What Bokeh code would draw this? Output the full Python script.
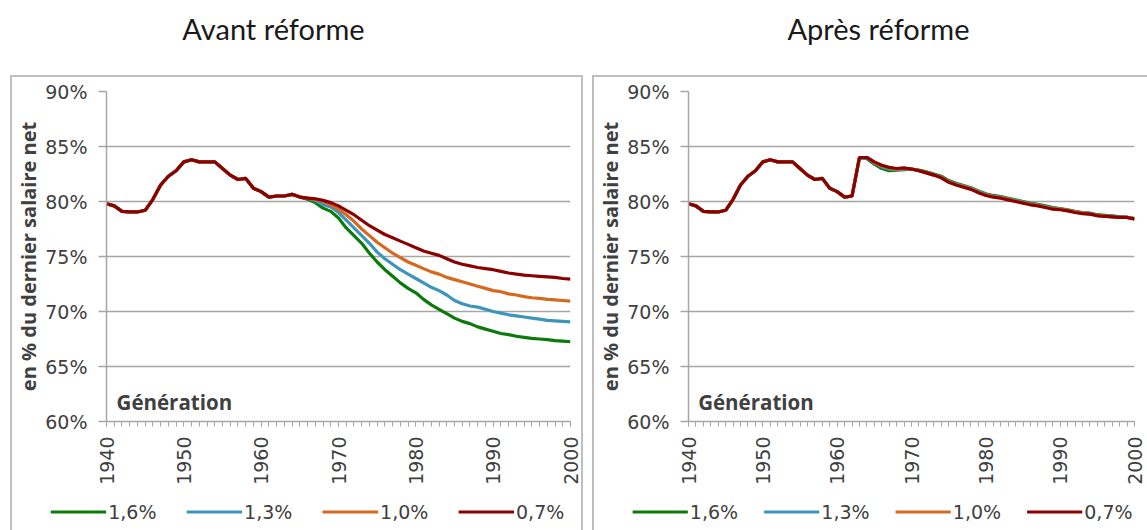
import math
from bokeh.plotting import figure
from bokeh.layouts import row, column
from bokeh.models import (Label, FixedTicker, PrintfTickFormatter, Spacer)
from bokeh.core.properties import value
from bokeh.embed import file_html
from bokeh.resources import INLINE

# ---------------- data ----------------
years = list(range(1940, 2001))
series_labels = ["1,6%", "1,3%", "1,0%", "0,7%"]
series_colors = ["#0B7A0B", "#3D95BC", "#D5691E", "#8B0000"]
titles = ["Avant réforme", "Après réforme"]
y_label = "en % du dernier salaire net"
x_title = "Génération"
x_ticks = [1940, 1950, 1960, 1970, 1980, 1990, 2000]
y_ticks = [60, 65, 70, 75, 80, 85, 90]

# common part 1940-1962 (in %)
base_common = [79.8, 79.6, 79.1, 79.05, 79.05, 79.2, 80.2, 81.5, 82.3, 82.8,
               83.6, 83.8, 83.6, 83.6, 83.6, 83.0, 82.4, 82.0, 82.1, 81.2,
               80.9, 80.4, 80.5]
# "Avant réforme": common 1963-1965, then per-series 1966-2000
avant_common_1963_1965 = [80.5, 80.65, 80.4]
avant_16 = [80.2, 79.9, 79.4, 79.1, 78.5, 77.6, 76.9, 76.2, 75.3, 74.5,
            73.8, 73.2, 72.6, 72.1, 71.7, 71.1, 70.6, 70.2, 69.8, 69.4,
            69.1, 68.9, 68.6, 68.4, 68.2, 68.0, 67.9, 67.75, 67.65, 67.55,
            67.5, 67.45, 67.35, 67.3, 67.25]
avant_13 = [80.3, 80.1, 79.7, 79.5, 79.0, 78.3, 77.6, 76.9, 76.2, 75.4,
            74.8, 74.3, 73.8, 73.4, 73.0, 72.6, 72.2, 71.9, 71.5, 71.0,
            70.7, 70.5, 70.4, 70.2, 70.0, 69.85, 69.7, 69.6, 69.5, 69.4,
            69.3, 69.2, 69.15, 69.1, 69.05]
avant_10 = [80.3, 80.2, 80.0, 79.7, 79.3, 78.8, 78.2, 77.5, 76.9, 76.3,
            75.8, 75.3, 74.9, 74.5, 74.2, 73.9, 73.6, 73.4, 73.1, 72.9,
            72.7, 72.5, 72.3, 72.1, 71.9, 71.8, 71.6, 71.5, 71.35, 71.25,
            71.2, 71.1, 71.05, 71.0, 70.95]
avant_07 = [80.3, 80.25, 80.1, 79.9, 79.6, 79.2, 78.8, 78.3, 77.8, 77.4,
            77.0, 76.7, 76.4, 76.1, 75.8, 75.5, 75.3, 75.1, 74.8, 74.5,
            74.3, 74.15, 74.0, 73.9, 73.8, 73.65, 73.5, 73.4, 73.3, 73.25,
            73.2, 73.15, 73.1, 73.0, 72.95]
# "Après réforme": per-series 1963-2000
apres_16 = [84.0, 83.9, 83.4, 83.0, 82.8, 82.85, 82.9, 82.95, 82.85, 82.7,
            82.5, 82.3, 81.9, 81.65, 81.45, 81.25, 80.95, 80.7, 80.55, 80.45,
            80.3, 80.15, 80.0, 79.85, 79.75, 79.6, 79.45, 79.35, 79.25, 79.1,
            79.0, 78.95, 78.8, 78.75, 78.7, 78.6, 78.55, 78.45]
apres_13 = [84.0, 83.95, 83.5, 83.15, 82.95, 82.9, 82.95, 82.95, 82.8, 82.65,
            82.45, 82.2, 81.85, 81.6, 81.4, 81.2, 80.9, 80.65, 80.5, 80.4,
            80.25, 80.1, 79.95, 79.8, 79.7, 79.55, 79.4, 79.3, 79.2, 79.05,
            78.95, 78.9, 78.75, 78.7, 78.65, 78.6, 78.55, 78.45]
apres_10 = [84.0, 84.0, 83.55, 83.25, 83.05, 82.95, 83.0, 82.95, 82.8, 82.6,
            82.4, 82.2, 81.8, 81.55, 81.35, 81.15, 80.85, 80.6, 80.45, 80.35,
            80.2, 80.05, 79.9, 79.75, 79.65, 79.5, 79.35, 79.3, 79.2, 79.05,
            78.95, 78.85, 78.75, 78.7, 78.6, 78.55, 78.55, 78.45]
apres_07 = [84.0, 84.0, 83.6, 83.3, 83.1, 83.0, 83.05, 82.95, 82.8, 82.6,
            82.4, 82.15, 81.75, 81.5, 81.3, 81.1, 80.8, 80.55, 80.4, 80.3,
            80.15, 80.0, 79.85, 79.7, 79.6, 79.45, 79.3, 79.25, 79.15, 79.0,
            78.9, 78.85, 78.7, 78.65, 78.6, 78.55, 78.55, 78.4]

avant = [base_common + avant_common_1963_1965 + s for s in (avant_16, avant_13, avant_10, avant_07)]
apres = [base_common + s for s in (apres_16, apres_13, apres_10, apres_07)]

# ---------------- style ----------------
FONT = "DejaVu Sans"
FS = "19px"
BFONT = "Open Sans"
BFS = "20.5px"
TXT = "#404040"
GRID = "#A6A6A6"
FRAME = "#BFBFBF"
LW = 3.2


def no_align(fig):
    if "frame_align" in fig.properties():
        fig.frame_align = False


def make_main(data, width, min_left, min_right, borders):
    p = figure(width=width, height=410, x_range=(1940, 2000), y_range=(60, 90),
               output_backend="svg", toolbar_location=None,
               min_border_left=min_left, min_border_right=min_right,
               min_border_top=14, min_border_bottom=66,
               styles=borders)
    no_align(p)
    p.outline_line_color = None
    p.xgrid.visible = False
    p.ygrid.grid_line_color = GRID
    p.ygrid.grid_line_width = 1.5
    p.ygrid.ticker = FixedTicker(ticks=y_ticks)

    ya = p.yaxis[0]
    ya.ticker = FixedTicker(ticks=y_ticks)
    ya.formatter = PrintfTickFormatter(format="%d%%")
    ya.axis_line_color = GRID
    ya.axis_line_width = 1.5
    ya.major_tick_line_color = GRID
    ya.major_tick_line_width = 1.5
    ya.major_tick_out = 8
    ya.major_tick_in = 0
    ya.minor_tick_line_color = None
    ya.major_label_standoff = 11
    ya.major_label_text_font = FONT
    ya.major_label_text_font_size = FS
    ya.major_label_text_color = TXT
    ya.axis_label = y_label
    ya.axis_label_text_font = BFONT
    ya.axis_label_text_font_style = "bold"
    ya.axis_label_text_font_size = "20px"
    ya.axis_label_text_color = TXT
    ya.axis_label_standoff = 0

    xa = p.xaxis[0]
    xa.ticker = FixedTicker(ticks=x_ticks, minor_ticks=years)
    xa.axis_line_color = GRID
    xa.axis_line_width = 1.5
    xa.major_tick_line_color = GRID
    xa.minor_tick_line_color = GRID
    xa.major_tick_out = 5
    xa.major_tick_in = 0
    xa.minor_tick_out = 5
    xa.minor_tick_in = 0
    xa.major_label_orientation = math.pi / 2
    xa.major_label_standoff = 10
    xa.major_label_text_font = FONT
    xa.major_label_text_font_size = FS
    xa.major_label_text_color = TXT

    for vals, col in zip(data, series_colors):
        p.line(years, vals, line_color=col, line_width=LW)

    p.add_layout(Label(x=1941.3, y=61.75, text=x_title, text_baseline="middle",
                       text_font=BFONT, text_font_style="bold",
                       text_font_size=BFS, text_color=TXT))
    return p


def make_legend(width, inner_w, x0, period, borders):
    # legend strip drawn in a pixel-scaled figure below each chart
    q = figure(width=width, height=45, x_range=(0, inner_w), y_range=(0, 45),
               output_backend="svg", toolbar_location=None,
               x_axis_location=None, y_axis_location=None, min_border=0,
               styles=borders)
    no_align(q)
    q.outline_line_color = None
    q.xgrid.visible = False
    q.ygrid.visible = False
    ly = 18.5
    for i, (lab, col) in enumerate(zip(series_labels, series_colors)):
        gx = x0 + i * period
        q.line([gx, gx + 55], [ly, ly], line_color=col, line_width=LW)
        q.text(x=[gx + 57], y=[ly], text=[lab], text_baseline="middle",
               text_font=value(FONT), text_font_size=FS, text_color=TXT)
    return q


side = f"2px solid {FRAME}"
p1 = make_main(avant, 573, 94, 15, {"border-top": side, "border-left": side,
                                     "border-right": side, "box-sizing": "border-box"})
l1 = make_legend(573, 569, 38, 135, {"border-left": side, "border-right": side,
                                     "box-sizing": "border-box"})
p2 = make_main(apres, 555, 92, 15, {"border-top": side, "border-left": side,
                                     "box-sizing": "border-box"})
l2 = make_legend(555, 553, 38, 131, {"border-left": side, "box-sizing": "border-box"})

tf = figure(width=1147, height=75, x_range=(0, 1147), y_range=(0, 75),
            output_backend="svg", toolbar_location=None,
            x_axis_location=None, y_axis_location=None, min_border=0)
no_align(tf)
tf.outline_line_color = None
tf.xgrid.visible = False
tf.ygrid.visible = False
for t, cx in zip(titles, [273, 878]):
    tf.add_layout(Label(x=cx, y=47, text=t, text_align="center", text_baseline="middle",
                        text_font="Lato", text_font_size="29px", text_color="#1A1A1A"))

layout = column(tf, row(Spacer(width=10), column(p1, l1), Spacer(width=9), column(p2, l2)))
open("out.html", "w").write(file_html(layout, INLINE))
